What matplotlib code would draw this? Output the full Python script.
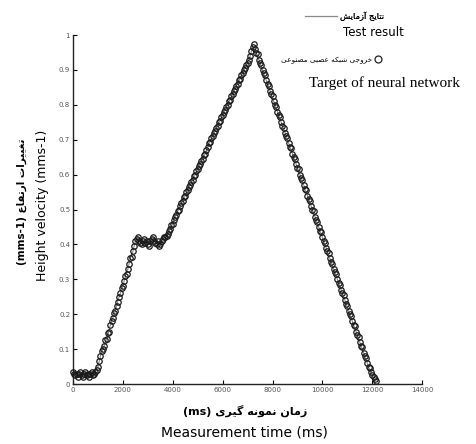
import matplotlib
matplotlib.use("Agg")
import matplotlib.pyplot as plt
from matplotlib.lines import Line2D

test_time = list(range(0, 12200, 100))
test_result = [
    0.03, 0.035, 0.025, 0.03, 0.02, 0.035, 0.03, 0.025, 0.035, 0.04,
    0.05, 0.08, 0.10, 0.12, 0.14, 0.17, 0.19, 0.21, 0.24, 0.26,
    0.28, 0.31, 0.33, 0.36, 0.38,
    0.41, 0.42, 0.405, 0.41, 0.415, 0.40, 0.41, 0.42, 0.405, 0.41,
    0.40, 0.415, 0.42,
    0.43, 0.445, 0.46, 0.48, 0.495, 0.51, 0.525, 0.54, 0.555, 0.57,
    0.585, 0.60, 0.615, 0.63, 0.645, 0.66, 0.68, 0.695, 0.71, 0.725,
    0.74, 0.755, 0.77, 0.785, 0.80, 0.815, 0.83, 0.845, 0.86, 0.875,
    0.89, 0.905, 0.92, 0.94, 0.965,
    0.96, 0.94, 0.92, 0.90, 0.88, 0.86, 0.84, 0.82, 0.80, 0.78,
    0.76, 0.74, 0.72, 0.70, 0.68, 0.66, 0.64, 0.62, 0.60, 0.58,
    0.56, 0.54, 0.52, 0.50, 0.48, 0.46, 0.44, 0.42, 0.40, 0.38,
    0.36, 0.34, 0.32, 0.30, 0.28, 0.26, 0.24, 0.22, 0.20, 0.18,
    0.16, 0.14, 0.12, 0.10, 0.08, 0.06, 0.04, 0.025, 0.01,
]

# neural network output, every 50 ms (the dense circles)
net_time = list(range(0, 12200, 50))
network_output = [
    # 0 - 950
    0.035, 0.03, 0.025, 0.03, 0.02, 0.03, 0.035, 0.025, 0.02, 0.03,
    0.035, 0.025, 0.03, 0.02, 0.03, 0.035, 0.025, 0.03, 0.035, 0.04,
    # 1000 - 2450
    0.05, 0.065, 0.08, 0.095, 0.10, 0.11, 0.125, 0.13, 0.145, 0.15,
    0.17, 0.18, 0.19, 0.205, 0.21, 0.225, 0.235, 0.25, 0.26, 0.275,
    0.28, 0.295, 0.31, 0.315, 0.33, 0.345, 0.36, 0.365, 0.38, 0.395,
    # 2500 - 3750
    0.41, 0.415, 0.42, 0.41, 0.405, 0.40, 0.41, 0.415, 0.405, 0.41,
    0.40, 0.395, 0.41, 0.415, 0.42, 0.41, 0.405, 0.40, 0.41, 0.395,
    0.40, 0.41, 0.415, 0.42, 0.42, 0.425,
    # 3800 - 7250
    0.43, 0.44, 0.445, 0.455, 0.46, 0.47, 0.48, 0.485, 0.495, 0.50,
    0.51, 0.52, 0.525, 0.535, 0.54, 0.55, 0.555, 0.565, 0.57, 0.58,
    0.585, 0.595, 0.60, 0.61, 0.615, 0.625, 0.63, 0.64, 0.645, 0.655,
    0.66, 0.67, 0.68, 0.69, 0.695, 0.705, 0.71, 0.72, 0.725, 0.735,
    0.74, 0.75, 0.755, 0.765, 0.77, 0.78, 0.785, 0.795, 0.80, 0.81,
    0.815, 0.825, 0.83, 0.84, 0.845, 0.855, 0.86, 0.87, 0.875, 0.885,
    0.89, 0.90, 0.905, 0.915, 0.92, 0.93, 0.94, 0.955, 0.965, 0.975,
    # 7300 - 12150
    0.96, 0.95, 0.945, 0.93, 0.92, 0.915, 0.90, 0.89, 0.885, 0.87,
    0.86, 0.855, 0.84, 0.83, 0.825, 0.81, 0.80, 0.795, 0.78, 0.77,
    0.765, 0.75, 0.74, 0.735, 0.72, 0.71, 0.705, 0.69, 0.68, 0.675,
    0.66, 0.65, 0.645, 0.63, 0.62, 0.615, 0.60, 0.59, 0.585, 0.57,
    0.56, 0.555, 0.54, 0.53, 0.525, 0.51, 0.50, 0.495, 0.48, 0.47,
    0.465, 0.45, 0.44, 0.435, 0.42, 0.41, 0.405, 0.39, 0.38, 0.375,
    0.36, 0.35, 0.345, 0.33, 0.32, 0.315, 0.30, 0.29, 0.285, 0.27,
    0.26, 0.255, 0.24, 0.23, 0.225, 0.21, 0.20, 0.195, 0.18, 0.17,
    0.165, 0.15, 0.14, 0.135, 0.12, 0.11, 0.105, 0.09, 0.08, 0.075,
    0.06, 0.05, 0.045, 0.035, 0.025, 0.02, 0.015, 0.01,
]

x_ticks = [0, 2000, 4000, 6000, 8000, 10000, 12000, 14000]
y_ticks = [0, 0.1, 0.2, 0.3, 0.4, 0.5, 0.6, 0.7, 0.8, 0.9, 1.0]
y_tick_labels = ["0", "0.1", "0.2", "0.3", "0.4", "0.5", "0.6", "0.7", "0.8", "0.9", "1"]


def visual(codes):
    # glyphs are given in logical order as presentation forms; flip for LTR drawing
    return "".join(chr(c) for c in reversed(codes))


SP = 0x20
# نتایج آزمایش
fa_test = visual([0xFEE7, 0xFE98, 0xFE8E, 0xFEF3, 0xFE9E, SP,
                  0xFE81, 0xFEAF, 0xFEE3, 0xFE8E, 0xFEF3, 0xFEB6])
# خروجی شبکه عصبی مصنوعی
fa_net = visual([0xFEA7, 0xFEAE, 0xFEED, 0xFE9F, 0xFEF0, SP,
                 0xFEB7, 0xFE92, 0xFEDC, 0xFEEA, SP,
                 0xFECB, 0xFEBC, 0xFE92, 0xFEF0, SP,
                 0xFEE3, 0xFEBC, 0xFEE8, 0xFEEE, 0xFECB, 0xFEF0])
# زمان نمونه گیری
fa_time = visual([0xFEAF, 0xFEE3, 0xFE8E, 0xFEE5, SP,
                  0xFEE7, 0xFEE4, 0xFEEE, 0xFEE7, 0xFEEA, SP,
                  0xFB94, 0xFEF4, 0xFEAE, 0xFEEF])
# تغییرات ارتفاع
fa_height = visual([0xFE97, 0xFED0, 0xFEF4, 0xFEF4, 0xFEAE, 0xFE8D, 0xFE95, SP,
                    0xFE8D, 0xFEAD, 0xFE97, 0xFED4, 0xFE8E, 0xFEC9])

fig = plt.figure(figsize=(4.77, 4.44), dpi=100)
ax = fig.add_axes([0.153, 0.135, 0.732, 0.786])

ax.plot(test_time, test_result, color="#8a8a8a", lw=0.8, zorder=2)
ax.plot(net_time, network_output, ls="none", marker="o", ms=3.9, mfc="none",
        mec="#1a1a1a", mew=0.9, zorder=3, clip_on=False)

ax.set_xlim(0, 14000)
ax.set_ylim(0, 1)
ax.set_xticks(x_ticks)
ax.set_xticklabels([str(v) for v in x_ticks])
ax.set_yticks(y_ticks)
ax.set_yticklabels(y_tick_labels)
ax.tick_params(direction="in", length=3, width=0.8, labelsize=5, labelcolor="#555555", pad=2)
for s in ["top", "right"]:
    ax.spines[s].set_visible(False)
for s in ["left", "bottom"]:
    ax.spines[s].set_linewidth(1.0)
    ax.spines[s].set_color("#222222")

# axis titles (Persian above, English below)
fig.text(0.513, 0.074, "(ms) " + fa_time, ha="center", va="center", fontsize=8,
         fontweight="bold", family="DejaVu Sans")
fig.text(0.513, 0.027, "Measurement time (ms)", ha="center", va="center", fontsize=10,
         family="DejaVu Sans")
fig.text(0.046, 0.545, "(mms-1) " + fa_height, ha="center", va="center", fontsize=7.5,
         rotation=90, fontweight="bold", family="DejaVu Sans")
fig.text(0.09, 0.538, "Height velocity (mms-1)", ha="center", va="center", fontsize=9,
         rotation=90, family="DejaVu Sans")

# legend block
h_line = Line2D([], [], color="#8a8a8a", lw=0.8)
h_mark = Line2D([], [], ls="none", marker="o", ms=5, mfc="none", mec="#222222", mew=0.9)
leg1 = fig.legend([h_line], [fa_test], loc="center right", bbox_to_anchor=(0.805, 0.963),
                  frameon=False, fontsize=6, handlelength=3.8, handletextpad=0.4,
                  borderpad=0, borderaxespad=0)
fig.legend([h_mark], [fa_net], loc="center right", bbox_to_anchor=(0.80, 0.865),
           frameon=False, fontsize=5.2, markerfirst=False, handlelength=1.0,
           handletextpad=0.3, borderpad=0, borderaxespad=0)
fig.add_artist(leg1)
fig.text(0.782, 0.926, "Test result", ha="center", va="center", fontsize=8.5,
         family="DejaVu Sans")
fig.text(0.807, 0.813, "Target of neural network", ha="center", va="center", fontsize=11,
         family="Liberation Serif")

fig.savefig("out.png", dpi=100)
